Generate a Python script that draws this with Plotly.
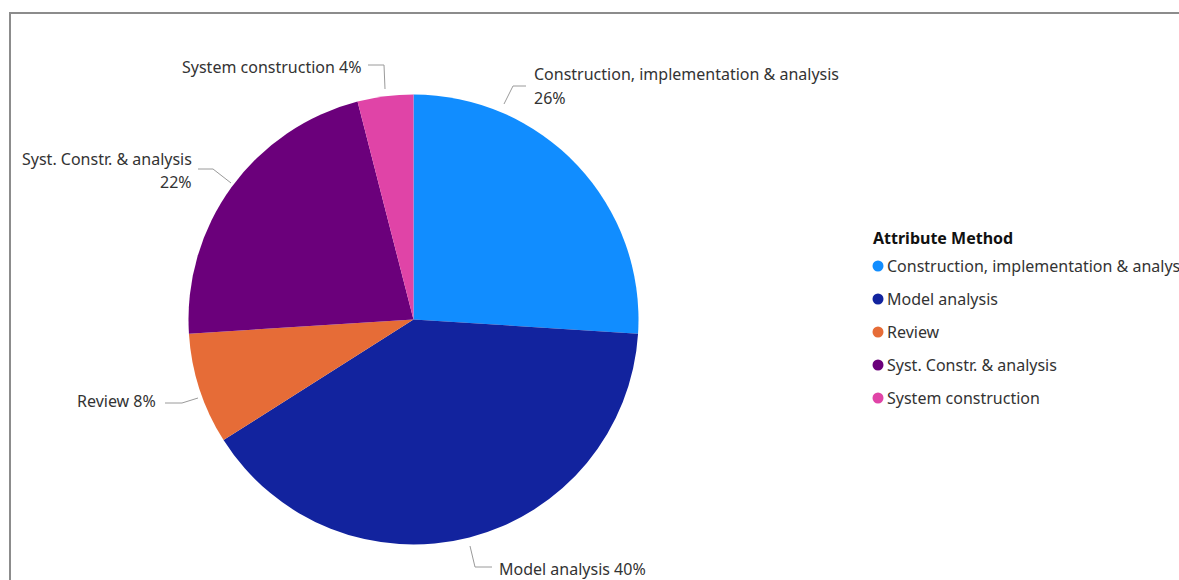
import plotly.graph_objects as go

# Canvas size in pixels
W, H = 1179, 580

# Data
methods = [
    "Construction, implementation & analysis",
    "Model analysis",
    "Review",
    "Syst. Constr. & analysis",
    "System construction",
]
counts = [13, 20, 4, 11, 2]
colors = ["#118DFF", "#12239E", "#E66C37", "#6B007B", "#E044A7"]
legend_title = "Attribute Method"

FONT = "Noto Sans"
TEXT_COLOR = "#333333"
FS = 16

# Pie geometry (pixels)
CX, CY, R = 413.5, 319.5, 225


def px(x):
    return x / W


def py(y):
    return 1 - y / H


total = sum(counts)
pcts = [round(100 * c / total) for c in counts]

fig = go.Figure(
    go.Pie(
        labels=methods,
        values=counts,
        marker=dict(colors=colors, line=dict(width=0)),
        sort=False,
        direction="clockwise",
        rotation=0,
        textinfo="none",
        hoverinfo="skip",
        showlegend=False,
        domain=dict(x=[px(CX - R), px(CX + R)], y=[py(CY + R), py(CY - R)]),
    )
)

# Outside label placement: text lines (x, y per line), alignment and leader polyline
label_layout = [
    dict(lines=[(532, 74), (532, 98)], split=True, anchor="left",
         leader=[(504, 104), (513, 86), (526, 86)]),
    dict(lines=[(497, 569)], split=False, anchor="left",
         leader=[(470, 546), (475, 567), (492, 567)]),
    dict(lines=[(158, 401)], split=False, anchor="right",
         leader=[(198, 398), (182, 403), (165, 403)]),
    dict(lines=[(194, 159), (194, 182)], split=True, anchor="right",
         leader=[(231, 183), (213, 169), (198, 169)]),
    dict(lines=[(363, 67)], split=False, anchor="right",
         leader=[(385, 89), (384, 65), (368, 65)]),
]

annotations = []
shapes = []
for name, pct, lay in zip(methods, pcts, label_layout):
    texts = [name, f"{pct}%"] if lay["split"] else [f"{name} {pct}%"]
    for t, (x, y) in zip(texts, lay["lines"]):
        annotations.append(dict(
            x=px(x), y=py(y), xref="paper", yref="paper", text=t,
            showarrow=False, xanchor=lay["anchor"], yanchor="middle",
            font=dict(family=FONT, size=FS, color=TEXT_COLOR),
        ))
    pts = lay["leader"]
    path = "M " + " L ".join(f"{px(a)},{py(b)}" for a, b in pts)
    shapes.append(dict(type="path", xref="paper", yref="paper", path=path,
                       line=dict(color="#9a9a9a", width=1)))

# Legend drawn from the category and colour lists
LX, LY0, LSTEP = 871, 238, 33
annotations.append(dict(
    x=px(LX), y=py(LY0), xref="paper", yref="paper",
    text=f"<b>{legend_title}</b>", showarrow=False,
    xanchor="left", yanchor="middle",
    font=dict(family=FONT, size=FS, color="#111111"),
))
for i, (name, col) in enumerate(zip(methods, colors)):
    yy = LY0 + 28 + LSTEP * i
    shapes.append(dict(type="circle", xref="paper", yref="paper",
                       x0=px(LX + 1.5), x1=px(LX + 12.5), y0=py(yy + 5.5), y1=py(yy - 5.5),
                       fillcolor=col, line=dict(width=0)))
    annotations.append(dict(
        x=px(LX + 14), y=py(yy), xref="paper", yref="paper", text=name,
        showarrow=False, xanchor="left", yanchor="middle",
        font=dict(family=FONT, size=FS, color=TEXT_COLOR),
    ))

# Frame around the visual
frame = "#8c8c8c"
shapes.append(dict(type="line", xref="paper", yref="paper",
                   x0=px(9), x1=px(W + 5), y0=py(13), y1=py(13),
                   line=dict(color=frame, width=2)))
shapes.append(dict(type="line", xref="paper", yref="paper",
                   x0=px(10), x1=px(10), y0=py(13), y1=py(H + 5),
                   line=dict(color=frame, width=2)))

fig.update_layout(
    width=W, height=H,
    margin=dict(l=0, r=0, t=0, b=0),
    paper_bgcolor="white", plot_bgcolor="white",
    annotations=annotations, shapes=shapes,
    showlegend=False,
)

fig.write_html("out.html")
